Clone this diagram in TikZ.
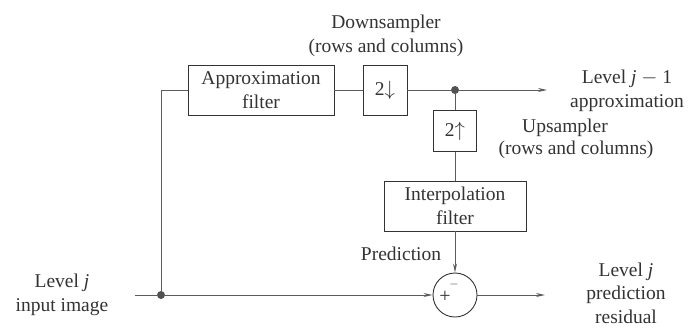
\documentclass[tikz,border=0pt]{standalone}
\usepackage{fontspec}
\setmainfont{Liberation Serif}
\usetikzlibrary{arrows.meta}
\definecolor{ink}{gray}{0.2}
\begin{document}
\begin{tikzpicture}[x=1pt,y=-1pt,
  every node/.style={text=ink,font=\fontsize{19.5}{23.5}\selectfont},
  blk/.style={draw=ink,line width=0.9pt,inner sep=0pt,align=center},
  lbl/.style={align=center,inner sep=0pt},
  wire/.style={draw=ink!80,line width=0.9pt},
  arr/.style={wire,-{Stealth[length=9pt,width=4pt]}},
  dot/.style={circle,fill=ink!85,inner sep=0pt,minimum size=8pt}]
\useasboundingbox (0,0) rectangle (688,327);
% blocks
\node[blk,minimum width=146pt,minimum height=50pt] (af) at (261,90) {Approximation\\filter};
\node[blk,minimum width=44pt,minimum height=50pt] (ds) at (385,90) {2$\downarrow$};
\node[dot] (j1) at (455,90) {};
\node[blk,minimum width=43pt,minimum height=41pt] (us) at (455,131) {2$\uparrow$};
\node[blk,minimum width=142pt,minimum height=50pt] (ip) at (455,206) {Interpolation\\filter};
\node[circle,draw=ink,line width=0.9pt,minimum size=44pt,inner sep=0pt] (sum) at (455,295) {};
\node[font=\fontsize{20}{20}\selectfont,inner sep=0pt] (plus) at (445,297) {+};
\node[font=\fontsize{12}{12}\selectfont,inner sep=0pt] (minus) at (454,284) {$-$};
\node[dot] (j0) at (161,295) {};
\coordinate (in) at (135,295);
\coordinate (corner) at (161,90);
\coordinate (outA) at (547,90);
\coordinate (outR) at (545,295);
% labels
\node[lbl] (dsl) at (386,36) {Downsampler\\(rows and columns)};
\node[lbl] (usl1) at (565,128) {Upsampler};
\node[lbl] (usl2) at (576,150) {(rows and columns)};
\node[lbl] (pred) at (401,254) {Prediction};
\node[lbl] (la) at (627,91) {Level \textit{j} $-$ 1\\approximation};
\node[lbl] (li) at (62,295) {Level \textit{j}\\[1pt]input image};
\node[lbl] (lr) at (626,293) {Level \textit{j}\\prediction\\residual};
% connectors
\draw[wire] (j0) -- (corner) -- (af.west);
\draw[wire] (af.east) -- (ds.west);
\draw[wire] (ds.east) -- (j1);
\draw[arr] (j1) -- (outA);
\draw[wire] (j1) -- (us.north);
\draw[wire] (us.south) -- (ip.north);
\draw[arr] (ip.south) -- (sum.north);
\draw[wire] (in) -- (j0);
\draw[arr] (j0) -- (sum.west);
\draw[arr] (sum.east) -- (outR);
\end{tikzpicture}
\end{document}
